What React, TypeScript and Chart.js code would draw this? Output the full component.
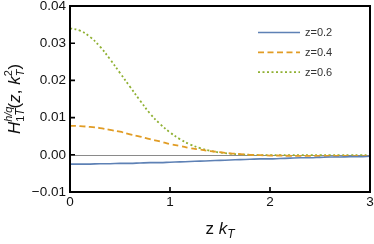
import React, { useEffect, useRef } from "react";
import { Chart, registerables } from "chart.js";
Chart.register(...registerables);

const kT = [0, 0.1, 0.2, 0.3, 0.4, 0.5, 0.6, 0.7, 0.8, 0.9, 1.0, 1.1, 1.2, 1.3, 1.4, 1.5, 1.6, 1.7, 1.8, 1.9, 2.0, 2.1, 2.2, 2.3, 2.4, 2.5, 2.6, 2.7, 2.8, 2.9, 3.0];
const z02 = [-0.0025, -0.0025, -0.0025, -0.0024, -0.0024, -0.0023, -0.0023, -0.0022, -0.0021, -0.0021, -0.002, -0.0019, -0.0018, -0.0017, -0.0016, -0.0015, -0.0014, -0.0013, -0.0012, -0.0011, -0.0011, -0.001, -0.0009, -0.0008, -0.0008, -0.0007, -0.0006, -0.0006, -0.0005, -0.0005, -0.0004];
const z04 = [0.0078, 0.0077, 0.0075, 0.0072, 0.0067, 0.0062, 0.0055, 0.0049, 0.0042, 0.0036, 0.0029, 0.0024, 0.0018, 0.0014, 0.001, 0.0007, 0.0004, 0.0002, 0.0, -0.0001, -0.0002, -0.0002, -0.0003, -0.0003, -0.0003, -0.0003, -0.0003, -0.0003, -0.0003, -0.0003, -0.0003];
const z06 = [0.034, 0.0334, 0.0317, 0.0291, 0.0257, 0.022, 0.0183, 0.0146, 0.0111, 0.0083, 0.006, 0.0042, 0.0028, 0.0018, 0.0011, 0.0006, 0.0003, 0.0001, 0.0, -0.0001, -0.0001, -0.0001, -0.0001, -0.0001, -0.0001, -0.0001, -0.0001, -0.0001, -0.0001, -0.0001, -0.0001];
const seriesLabels = ["z=0.2", "z=0.4", "z=0.6"];
const seriesColors = ["#5E81B5", "#E19C24", "#8FB032"];
const xTicks = [0, 1, 2, 3];
const yTicks = [-0.01, 0, 0.01, 0.02, 0.03, 0.04];

const FONT = "'Liberation Sans', Arial, sans-serif";

const framePlugin = {
  id: "framePlugin",
  beforeDatasetsDraw(chart: any) {
    const { ctx, chartArea: a, scales } = chart;
    const y0 = scales.y.getPixelForValue(0);
    ctx.save();
    ctx.strokeStyle = "#8a8a8a";
    ctx.lineWidth = 1;
    ctx.beginPath();
    ctx.moveTo(a.left, Math.round(y0) + 0.5);
    ctx.lineTo(a.right, Math.round(y0) + 0.5);
    ctx.stroke();
    ctx.restore();
  },
  afterDraw(chart: any) {
    const { ctx, chartArea: a, scales } = chart;
    ctx.save();
    // frame
    ctx.strokeStyle = "#000";
    ctx.lineWidth = 2;
    ctx.strokeRect(a.left, a.top, a.right - a.left, a.bottom - a.top);
    // inward ticks
    ctx.lineWidth = 1.6;
    ctx.beginPath();
    yTicks.forEach((v) => {
      const p = scales.y.getPixelForValue(v);
      ctx.moveTo(a.left, p);
      ctx.lineTo(a.left + 5, p);
    });
    xTicks.forEach((v) => {
      const p = scales.x.getPixelForValue(v);
      ctx.moveTo(p, a.bottom);
      ctx.lineTo(p, a.bottom - 5);
    });
    ctx.stroke();

    // legend
    const ds = chart.data.datasets;
    ds.forEach((d: any, i: number) => {
      const yy = 32.5 + i * 19.8;
      ctx.strokeStyle = d.borderColor;
      ctx.lineWidth = d.borderWidth;
      ctx.setLineDash(d.borderDash || []);
      ctx.beginPath();
      ctx.moveTo(258, yy);
      ctx.lineTo(300, yy);
      ctx.stroke();
      ctx.setLineDash([]);
      ctx.fillStyle = "#333";
      ctx.font = `11px ${FONT}`;
      ctx.textBaseline = "middle";
      ctx.textAlign = "left";
      ctx.fillText(d.label, 305, yy + 0.5);
    });

    // x title: z k_T
    ctx.fillStyle = "#111";
    ctx.textBaseline = "alphabetic";
    ctx.textAlign = "left";
    const cx = (a.left + a.right) / 2;
    const base = 234;
    ctx.font = `17px ${FONT}`;
    const wz = ctx.measureText("z ").width;
    ctx.font = `italic 17px ${FONT}`;
    const wk = ctx.measureText("k").width;
    ctx.font = `italic 12px ${FONT}`;
    const wT = ctx.measureText("T").width;
    let x = cx - (wz + wk + wT) / 2;
    ctx.font = `17px ${FONT}`;
    ctx.fillText("z ", x, base);
    x += wz;
    ctx.font = `italic 17px ${FONT}`;
    ctx.fillText("k", x, base);
    x += wk;
    ctx.font = `italic 12px ${FONT}`;
    ctx.fillText("T", x, base + 4);

    // y title: H_{1T}^{h/q}(z, k_T^2)
    ctx.translate(20, (a.top + a.bottom) / 2);
    ctx.rotate(-Math.PI / 2);
    const big = `italic 17px ${FONT}`;
    const bigN = `17px ${FONT}`;
    const sm = `italic 11px ${FONT}`;
    const smN = `11px ${FONT}`;
    const parts: any[] = [
      { t: "H", f: big, dy: 0, adv: true },
      { t: "h/q", f: sm, dy: -8, adv: false },
      { t: "1", f: smN, dy: 4, adv: true },
      { t: "T", f: `italic 12px ${FONT}`, dy: 4, adv: true },
      { t: "(", f: bigN, dy: 0, adv: true },
      { t: "z", f: big, dy: 0, adv: true },
      { t: ", ", f: bigN, dy: 0, adv: true },
      { t: "k", f: big, dy: 0, adv: true },
      { t: "2", f: smN, dy: -8, adv: false },
      { t: "T", f: sm, dy: 4, adv: true },
      { t: ")", f: bigN, dy: 0, adv: true },
    ];
    let total = 0;
    parts.forEach((p) => {
      ctx.font = p.f;
      p.w = ctx.measureText(p.t).width;
      if (p.adv) total += p.w;
    });
    let px = -total / 2;
    parts.forEach((p) => {
      ctx.font = p.f;
      ctx.fillText(p.t, px, p.dy);
      if (p.adv) px += p.w;
    });
    ctx.restore();
  },
};

export default function App() {
  const ref = useRef<HTMLCanvasElement | null>(null);
  useEffect(() => {
    document.body.style.margin = "0";
    const mk = (ys: number[]) => kT.map((x, i) => ({ x, y: ys[i] }));
    const chart = new Chart(ref.current as HTMLCanvasElement, {
      type: "line",
      data: {
        datasets: [
          { label: seriesLabels[0], data: mk(z02), borderColor: seriesColors[0], borderWidth: 1.6, pointRadius: 0, tension: 0.4, fill: false },
          { label: seriesLabels[1], data: mk(z04), borderColor: seriesColors[1], borderWidth: 1.8, borderDash: [6, 3.5], pointRadius: 0, tension: 0.4, fill: false },
          { label: seriesLabels[2], data: mk(z06), borderColor: seriesColors[2], borderWidth: 1.8, borderDash: [2, 2.5], pointRadius: 0, tension: 0.4, fill: false },
        ],
      },
      options: {
        animation: false,
        responsive: false,
        maintainAspectRatio: false,
        layout: { padding: { top: 6, right: 4, left: 0, bottom: 0 } },
        plugins: { legend: { display: false }, tooltip: { enabled: false } },
        scales: {
          x: {
            type: "linear",
            min: 0,
            max: 3,
            grid: { display: false, drawTicks: false },
            border: { display: false },
            afterBuildTicks: (s: any) => { s.ticks = xTicks.map((v) => ({ value: v })); },
            afterFit: (s: any) => { s.height = 52; s.paddingLeft = 0; s.paddingRight = 0; },
            ticks: { padding: 2, color: "#111", font: { family: FONT, size: 13.5 }, maxRotation: 0, callback: (v: any) => String(v) },
          },
          y: {
            type: "linear",
            min: -0.01,
            max: 0.04,
            grid: { display: false, drawTicks: false },
            border: { display: false },
            afterBuildTicks: (s: any) => { s.ticks = yTicks.map((v) => ({ value: v })); },
            afterFit: (s: any) => { s.width = 70; s.paddingTop = 0; s.paddingBottom = 0; },
            ticks: {
              padding: 4,
              color: "#111",
              font: { family: FONT, size: 13.5 },
              callback: (v: any) => (v < 0 ? "\u2212" + Math.abs(v).toFixed(2) : Number(v).toFixed(2)),
            },
          },
        },
      } as any,
      plugins: [framePlugin],
    });
    return () => chart.destroy();
  }, []);
  return (
    <div style={{ width: 374, height: 244, position: "relative" }}>
      <canvas ref={ref} width={374} height={244} style={{ display: "block" }} />
    </div>
  );
}
